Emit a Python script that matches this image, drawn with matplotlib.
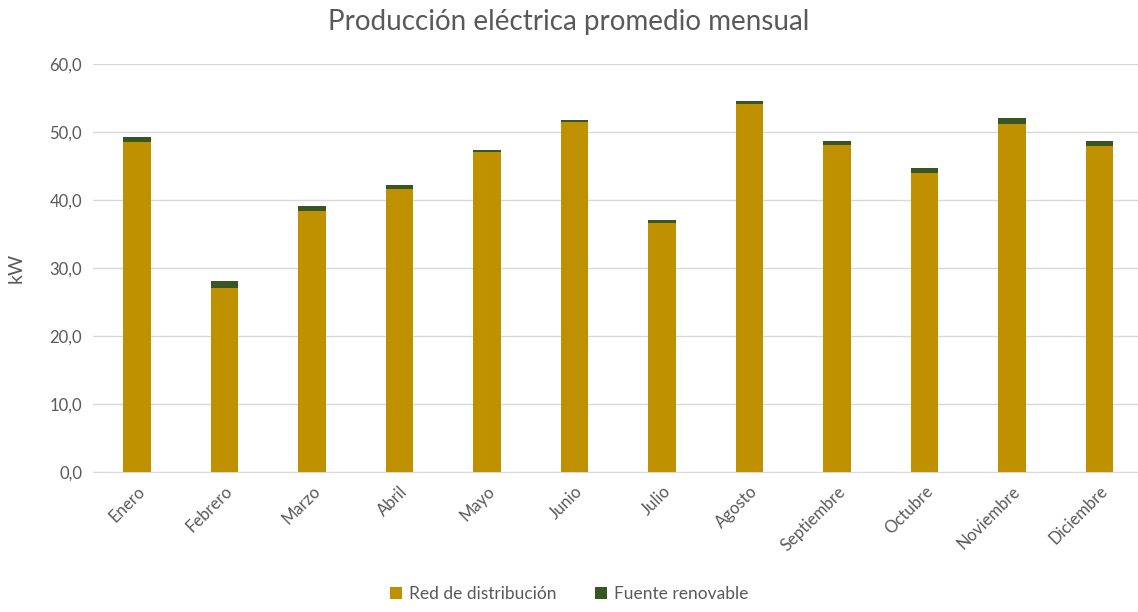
import matplotlib.pyplot as plt
import numpy as np

meses = ["Enero", "Febrero", "Marzo", "Abril", "Mayo", "Junio", "Julio",
         "Agosto", "Septiembre", "Octubre", "Noviembre", "Diciembre"]
red = [48.5, 27.1, 38.4, 41.6, 47.0, 51.4, 36.6, 54.1, 48.1, 43.9, 51.2, 47.9]
renovable = [0.8, 1.0, 0.7, 0.6, 0.4, 0.4, 0.4, 0.4, 0.6, 0.8, 0.8, 0.8]

plt.rcParams['font.family'] = ['Lato', 'DejaVu Sans']
gris = '#595959'

fig = plt.figure(figsize=(11.38, 6.12), dpi=100)
ax = fig.add_axes([0.082, 0.2288, 0.9227, 0.6666])

x = np.arange(len(meses))
ax.bar(x, red, width=0.315, color='#BF9000', label='Red de distribución', zorder=3)
ax.bar(x, renovable, width=0.315, bottom=red, color='#375623', label='Fuente renovable', zorder=3)

ax.set_xlim(-0.5, len(meses) - 0.5)
ax.set_ylim(0, 60)
ax.set_yticks(np.arange(0, 61, 10))
ax.set_yticklabels([f"{v:.1f}".replace('.', ',') for v in np.arange(0, 61, 10)])
ax.set_xticks(x)
ax.set_xticklabels(meses, rotation=45, ha='right', rotation_mode='anchor')
ax.tick_params(axis='both', length=0, colors=gris, labelsize=12, pad=8)
ax.grid(axis='y', color='#D9D9D9', linewidth=1, zorder=0)
for s in ['top', 'right', 'left']:
    ax.spines[s].set_visible(False)
ax.spines['bottom'].set_color('#D9D9D9')

ax.set_ylabel('kW', color=gris, fontsize=14, labelpad=18)
fig.suptitle('Producción eléctrica promedio mensual', color=gris, fontsize=20, y=0.985)

fig.legend(loc='lower center', ncol=2, frameon=False, fontsize=12.5,
           labelcolor=gris, handlelength=0.7, handleheight=0.7, handletextpad=0.4,
           columnspacing=2.2, bbox_to_anchor=(0.5, -0.01))

plt.savefig('out.png')
